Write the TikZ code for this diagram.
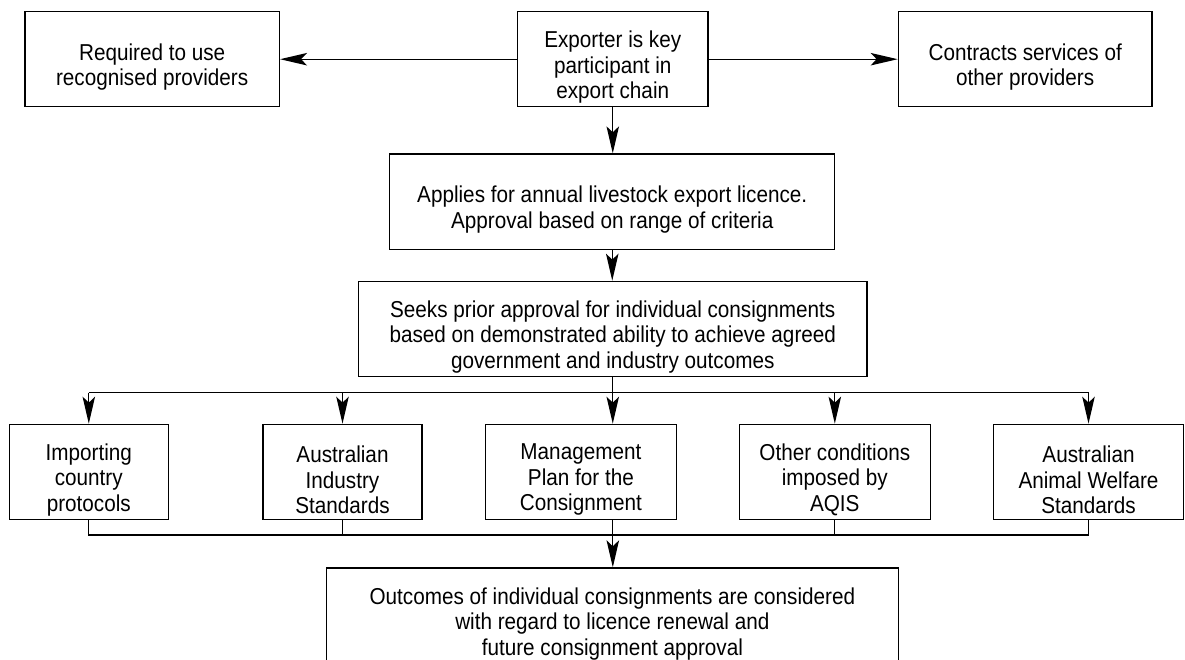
\documentclass[tikz,border=0pt]{standalone}
\usepackage{fontspec}
\setmainfont{Liberation Sans}[FakeStretch=0.9]
\usetikzlibrary{arrows.meta}
\tikzset{
  txt/.style={align=center, inner sep=0pt, font=\fontsize{23}{25.5}\selectfont},
  box/.style={draw, line width=1.3pt, inner sep=0pt},
  says/.style={label={[txt, yshift=-8pt]center:{#1}}},
  link/.style={line width=1.3pt},
  arr/.style={link, -{Stealth[length=27pt, width=12.5pt, inset=6pt]}},
}
\begin{document}
\begin{tikzpicture}[x=1pt, y=-1pt]
\useasboundingbox (0,0) rectangle (1185,659);

% top row
\node[box, minimum width=254.5pt, minimum height=95pt,
  says={Required to use\\recognised providers}] (req) at (152.15,59.2) {};
\node[box, minimum width=190.7pt, minimum height=95pt,
  says={Exporter is key\\participant in\\export chain}] (exp) at (612.75,59.2) {};
\node[box, minimum width=253.8pt, minimum height=95pt,
  says={Contracts services of\\other providers}] (con) at (1025.2,59.2) {};

% licence and consignment approval
\node[box, minimum width=445.1pt, minimum height=95.3pt,
  says={Applies for annual livestock export licence.\\Approval based on range of criteria}] (app) at (612.25,201.65) {};
\node[box, minimum width=508.5pt, minimum height=95.4pt,
  says={Seeks prior approval for individual consignments\\based on demonstrated ability to achieve agreed\\government and industry outcomes}] (seek) at (612.75,329) {};

% requirement boxes
\node[box, minimum width=159.2pt, minimum height=95pt,
  says={Importing\\country\\protocols}] (c1) at (88.8,471.8) {};
\node[box, minimum width=159.2pt, minimum height=95pt,
  says={Australian\\Industry\\Standards}] (c2) at (342.5,471.8) {};
\node[box, minimum width=191.2pt, minimum height=95pt,
  says={Management\\Plan for the\\Consignment}] (c3) at (580.9,471.8) {};
\node[box, minimum width=191pt, minimum height=95pt,
  says={Other conditions\\imposed by\\AQIS}] (c4) at (834.8,471.8) {};
\node[box, minimum width=190.6pt, minimum height=95pt,
  says={Australian\\Animal Welfare\\Standards}] (c5) at (1088.5,471.8) {};

% outcome box, running off the lower edge
\node[box, minimum width=571.9pt, minimum height=160pt, anchor=north] (outbox) at (612.35,567.3) {};
\node[txt] (out) at (612.35,624)
  {Outcomes of individual consignments are considered\\with regard to licence renewal and\\future consignment approval};

% bus lines
\coordinate (busT) at (0,392.5);
\coordinate (busB) at (0,535);
\coordinate (m3) at (612.8,0);

% connectors
\draw[arr] (exp.west) -- (req.east);
\draw[arr] (exp.east) -- (con.west);
\draw[arr] (exp.south) -- (exp.south |- app.north);
\draw[arr] (app.south) -- (app.south |- seek.north);
\draw[arr] (seek.south) -- (seek.south |- c3.north);
\draw[link] (c1.north |- busT) -- (c5.north |- busT);
\draw[arr] (c1.north |- busT) -- (c1.north);
\draw[arr] (c2.north |- busT) -- (c2.north);
\draw[arr] (c4.north |- busT) -- (c4.north);
\draw[arr] (c5.north |- busT) -- (c5.north);

\draw[link] (c1.south) -- (c1.south |- busB) -- (c5.south |- busB) -- (c5.south);
\draw[link] (c2.south) -- (c2.south |- busB);
\draw[link] (c4.south) -- (c4.south |- busB);
\draw[arr] (m3 |- c3.south) -- (m3 |- outbox.north);
\end{tikzpicture}
\end{document}
